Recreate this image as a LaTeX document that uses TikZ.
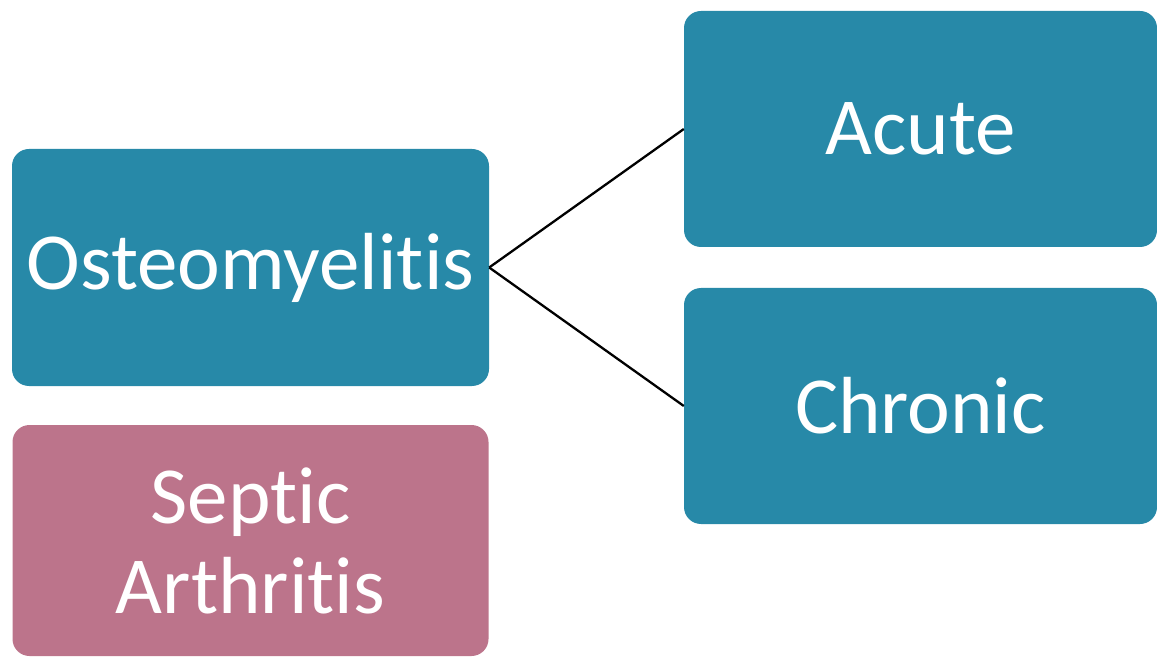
\documentclass[tikz,border=0pt]{standalone}
\usepackage{fontspec}
\setmainfont{Carlito}[Ligatures={NoCommon}]
\definecolor{teal1}{RGB}{39,137,168}
\definecolor{pink1}{RGB}{188,116,139}
\begin{document}
\begin{tikzpicture}[x=1pt,y=1pt,
  box/.style={rounded corners=17pt, inner sep=0pt, text=white, align=center,
    font=\fontsize{81}{90}\selectfont},
  conn/.style={line width=2.3pt, black}]
\useasboundingbox (0,0) rectangle (1157,657);
\node[box, fill=teal1, minimum width=477, minimum height=237] (osteo) at (250.5,389.5) {Osteomyelitis};
\node[box, fill=pink1, minimum width=476, minimum height=231] (septic) at (250.5,116.5) {Septic\\Arthritis};
\node[box, fill=teal1, minimum width=473, minimum height=236] (acute) at (920.5,528) {Acute};
\node[box, fill=teal1, minimum width=473, minimum height=236] (chronic) at (920.5,251) {Chronic};
\draw[conn] (osteo.east) -- (acute.west);
\draw[conn] (osteo.east) -- (chronic.west);
\end{tikzpicture}
\end{document}
